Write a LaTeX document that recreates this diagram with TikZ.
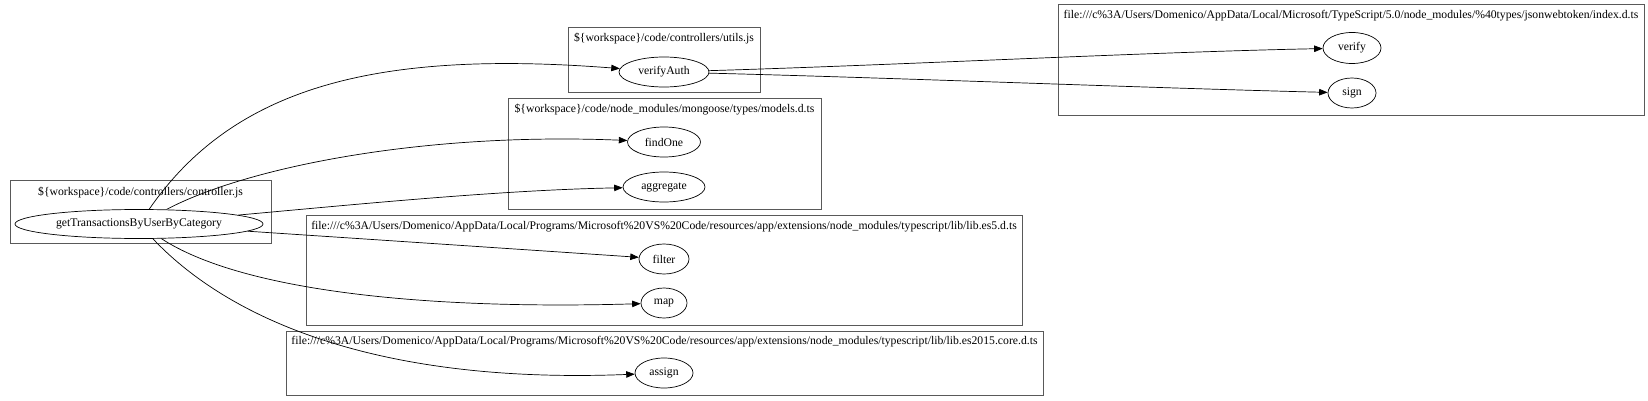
\documentclass[tikz,border=0pt]{standalone}
\usepackage{fontspec}
\setmainfont{Liberation Serif}
\usetikzlibrary{shapes.geometric,arrows.meta}
\tikzset{
  fn/.style={font=\fontsize{11.7pt}{14pt}\selectfont},
  fnode/.style={ellipse,draw=black,line width=0.7pt,inner sep=0pt,fn},
  cluster/.style={draw=black!65,line width=1pt},
  ctitle/.style={anchor=base,inner sep=0pt,fn},
  edge/.style={draw=black,line width=0.7pt,-{Triangle[length=8.5pt,width=6.5pt]}}
}
\begin{document}
\begin{tikzpicture}[x=1pt,y=-1pt]
\useasboundingbox (0,0) rectangle (1648,401);
% clusters
\draw[cluster] (10,180) rectangle (271,243);
\node[ctitle] (t1) at (140.5,195) {\$\{workspace\}/code/controllers/controller.js};
\draw[cluster] (568,28) rectangle (760,93);
\node[ctitle] (t2) at (664,42) {\$\{workspace\}/code/controllers/utils.js};
\draw[cluster] (508,99) rectangle (821,209);
\node[ctitle] (t3) at (664.5,113) {\$\{workspace\}/code/node\_modules/mongoose/types/models.d.ts};
\draw[cluster] (1058,5) rectangle (1644,116);
\node[ctitle] (t4) at (1351,19) {file:///c\%3A/Users/Domenico/AppData/Local/Microsoft/TypeScript/5.0/node\_modules/\%40types/jsonwebtoken/index.d.ts};
\draw[cluster] (306,215) rectangle (1022,325);
\node[ctitle] (t5) at (664,229) {file:///c\%3A/Users/Domenico/AppData/Local/Programs/Microsoft\%20VS\%20Code/resources/app/extensions/node\_modules/typescript/lib/lib.es5.d.ts};
\draw[cluster] (286,331) rectangle (1043,395);
\node[ctitle] (t6) at (664.5,344) {file:///c\%3A/Users/Domenico/AppData/Local/Programs/Microsoft\%20VS\%20Code/resources/app/extensions/node\_modules/typescript/lib/lib.es2015.core.d.ts};
% function nodes
\node[fnode,minimum width=248pt,minimum height=29pt] (G) at (139,224) {getTransactionsByUserByCategory};
\node[fnode,minimum width=90pt,minimum height=30pt] (verifyAuth) at (664,72) {verifyAuth};
\node[fnode,minimum width=73pt,minimum height=30pt] (findOne) at (664,142) {findOne};
\node[fnode,minimum width=82pt,minimum height=30pt] (aggregate) at (664,187) {aggregate};
\node[fnode,minimum width=50pt,minimum height=30pt] (filter) at (664,259) {filter};
\node[fnode,minimum width=46pt,minimum height=30pt] (map) at (664,303) {map};
\node[fnode,minimum width=58pt,minimum height=30pt] (assign) at (664,373) {assign};
\node[fnode,minimum width=58pt,minimum height=31pt] (verify) at (1352,48) {verify};
\node[fnode,minimum width=48pt,minimum height=30pt] (sign) at (1352,93) {sign};
% edges
\draw[edge] (G) .. controls (235,85) and (380,50) .. (verifyAuth);
\draw[edge] (G) .. controls (245,168) and (420,132) .. (findOne);
\draw[edge] (G) .. controls (350,205) and (500,190) .. (aggregate);
\draw[edge] (G) .. controls (350,238) and (500,248) .. (filter);
\draw[edge] (G) .. controls (240,290) and (420,310) .. (map);
\draw[edge] (G) .. controls (220,310) and (360,385) .. (assign);
\draw[edge] (verifyAuth) .. controls (900,65) and (1150,52) .. (verify);
\draw[edge] (verifyAuth) .. controls (900,78) and (1150,88) .. (sign);
\end{tikzpicture}
\end{document}
